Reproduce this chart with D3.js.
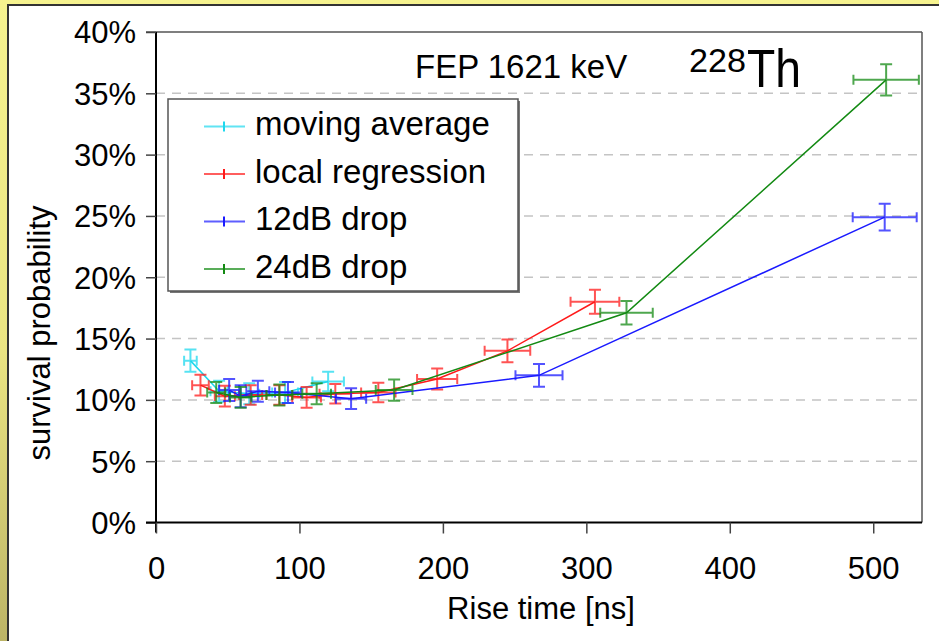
<!DOCTYPE html>
<html><head><meta charset="utf-8">
<script src="https://cdn.jsdelivr.net/npm/d3@7/dist/d3.min.js"></script>
<style>html,body{margin:0;padding:0;background:#fff}svg{display:block}</style>
</head><body>
<script>
// ---------- data ----------
const seriesNames = ["moving average", "local regression", "12dB drop", "24dB drop"];
const seriesColors = ["#1ed8ee", "#ff1a1a", "#1a1aff", "#138a13"];

const maX    = [24, 44, 65, 90, 120];
const maY    = [13.2, 10.7, 10.5, 10.6, 11.5];
const maXErr = [4.4, 6, 7, 9, 11];
const maYErr = [0.9, 0.85, 0.85, 0.85, 0.8];

const lrX    = [31, 48, 66, 86, 105, 125, 155, 196, 245, 306];
const lrY    = [11.2, 10.3, 10.4, 10.4, 10.2, 10.5, 10.6, 11.7, 14.0, 18.0];
const lrXErr = [5.8, 7, 8, 9, 10, 11, 12, 14, 15.9, 17];
const lrYErr = [0.85, 0.85, 0.8, 0.8, 0.85, 0.8, 0.8, 0.85, 0.93, 0.98];

const d12X    = [51, 59, 71, 92, 136, 267, 508];
const d12Y    = [10.8, 10.3, 10.7, 10.6, 10.1, 12.0, 24.9];
const d12XErr = [7, 7.5, 8, 9, 10.5, 16.4, 22.3];
const d12YErr = [0.9, 0.9, 0.85, 0.85, 0.85, 0.93, 1.09];

const d24X    = [42, 59, 86, 112, 166, 328, 509];
const d24Y    = [10.6, 10.2, 10.4, 10.5, 10.8, 17.1, 36.1];
const d24XErr = [6.3, 7.5, 9, 10, 12.8, 18.3, 22.8];
const d24YErr = [0.85, 0.85, 0.85, 0.85, 0.87, 0.96, 1.27];

const xTicks = [0, 100, 200, 300, 400, 500];
const yTicks = [0, 5, 10, 15, 20, 25, 30, 35, 40];
const yTickLabels = yTicks.map(v => v + "%");

const xLabel = "Rise time [ns]";
const yLabel = "survival probability";
const titleText = "FEP 1621 keV";
const isoMass = "228";
const isoElem = "Th";

// ---------- build ----------
const W = 939, H = 641;
const svg = d3.select("body").append("svg").attr("width", W).attr("height", H);
const font = "'Liberation Sans', Arial, sans-serif";

const defs = svg.append("defs");
const grad = defs.append("linearGradient").attr("id", "bg").attr("x1", 0).attr("y1", 0).attr("x2", 0).attr("y2", 1);
grad.append("stop").attr("offset", "0%").attr("stop-color", "#f6f38f");
grad.append("stop").attr("offset", "55%").attr("stop-color", "#eae482");
grad.append("stop").attr("offset", "100%").attr("stop-color", "#bcb466");

svg.append("rect").attr("width", W).attr("height", H).attr("fill", "url(#bg)");
svg.append("rect").attr("x", 8).attr("y", 5).attr("width", W).attr("height", H)
  .attr("fill", "#fff").attr("stroke", "#333").attr("stroke-width", 2);

const x = d3.scaleLinear().domain([0, 534]).range([156, 922]);
const y = d3.scaleLinear().domain([0, 40]).range([522.5, 32]);

// gridlines
svg.append("g").selectAll("line").data(yTicks.filter(v => v > 0 && v < 40)).join("line")
  .attr("x1", x(0)).attr("x2", x(534)).attr("y1", d => y(d)).attr("y2", d => y(d))
  .attr("stroke", "#c4c4c4").attr("stroke-width", 1.5).attr("stroke-dasharray", "9,7");

// frame: top & right
svg.append("line").attr("x1", 146).attr("x2", x(534)).attr("y1", y(40)).attr("y2", y(40))
  .attr("stroke", "#555").attr("stroke-width", 1.5);
svg.append("line").attr("x1", x(534)).attr("x2", x(534)).attr("y1", y(40)).attr("y2", y(0))
  .attr("stroke", "#555").attr("stroke-width", 1.5);

// y axis
const yAxis = d3.axisLeft(y).tickValues(yTicks).tickFormat((d, i) => yTickLabels[i]).tickSize(10).tickPadding(10);
const gy = svg.append("g").attr("transform", `translate(${x(0)},0)`).call(yAxis);
gy.select(".domain").attr("stroke", "#000").attr("stroke-width", 2).attr("d", `M0,${y(40)}V${y(0) + 10}`);
gy.selectAll(".tick line").attr("stroke", "#444").attr("stroke-width", 1.5);
gy.selectAll(".tick text").attr("font-family", font).attr("font-size", 31).attr("fill", "#000")
  .attr("dy", "0.35em");

// x axis
const xAxis = d3.axisBottom(x).tickValues(xTicks).tickSize(11).tickPadding(23);
const gx = svg.append("g").attr("transform", `translate(0,${y(0)})`).call(xAxis);
gx.select(".domain").attr("stroke", "#000").attr("stroke-width", 2).attr("d", `M${x(0) - 10},0H${x(534)}`);
gx.selectAll(".tick line").attr("stroke", "#444").attr("stroke-width", 1.5);
gx.selectAll(".tick text").attr("font-family", font).attr("font-size", 31).attr("fill", "#000");

// axis titles
svg.append("text").attr("x", 541).attr("y", 619).attr("text-anchor", "middle")
  .attr("font-family", font).attr("font-size", 31).text(xLabel);
svg.append("text").attr("transform", "translate(50,333) rotate(-90)").attr("text-anchor", "middle")
  .attr("font-family", font).attr("font-size", 31).text(yLabel);

// title
svg.append("text").attr("x", 415).attr("y", 78).attr("font-family", font).attr("font-size", 33).text(titleText);
svg.append("text").attr("x", 689).attr("y", 72).attr("font-family", font).attr("font-size", 33)
  .attr("textLength", 57).attr("lengthAdjust", "spacingAndGlyphs").text(isoMass);
svg.append("text").attr("x", 747).attr("y", 87).attr("font-family", font).attr("font-size", 53)
  .attr("textLength", 54).attr("lengthAdjust", "spacingAndGlyphs").text(isoElem);

// series
const series = [
  {xs: maX, ys: maY, xe: maXErr, ye: maYErr},
  {xs: lrX, ys: lrY, xe: lrXErr, ye: lrYErr},
  {xs: d12X, ys: d12Y, xe: d12XErr, ye: d12YErr},
  {xs: d24X, ys: d24Y, xe: d24XErr, ye: d24YErr},
];
const line = d3.line().x(d => x(d[0])).y(d => y(d[1]));
series.forEach((s, si) => {
  const pts = s.xs.map((v, i) => [v, s.ys[i], s.xe[i], s.ye[i]]);
  const col = seriesColors[si];
  const g = svg.append("g");
  g.append("path").attr("d", line(pts)).attr("fill", "none").attr("stroke", col).attr("stroke-width", 1.5);
  const eb = g.append("g").attr("stroke", col).attr("stroke-width", 2).attr("stroke-opacity", 0.75).attr("fill", "none");
  pts.forEach(p => {
    const cx = x(p[0]), cy = y(p[1]);
    const x0 = x(p[0] - p[2]), x1 = x(p[0] + p[2]);
    const y0 = y(p[1] - p[3]), y1 = y(p[1] + p[3]);
    eb.append("path").attr("d",
      `M${cx},${y0}V${y1}M${cx - 6},${y0}H${cx + 6}M${cx - 6},${y1}H${cx + 6}` +
      `M${x0},${cy}H${x1}M${x0},${cy - 5}V${cy + 5}M${x1},${cy - 5}V${cy + 5}`);
  });
});

// legend
const lg = svg.append("g");
lg.append("rect").attr("x", 170).attr("y", 101).attr("width", 350).attr("height", 192).attr("fill", "#777");
lg.append("rect").attr("x", 168).attr("y", 99).attr("width", 350).attr("height", 192)
  .attr("fill", "#fff").attr("stroke", "#555").attr("stroke-width", 1.5);
const rowY = d3.scalePoint().domain(seriesNames).range([135, 277.5]);
seriesNames.forEach((n, i) => {
  const by = rowY(n), my = by - 8.5;
  lg.append("line").attr("x1", 204).attr("x2", 245).attr("y1", my).attr("y2", my)
    .attr("stroke", seriesColors[i]).attr("stroke-width", 2).attr("stroke-opacity", 0.7);
  lg.append("line").attr("x1", 224).attr("x2", 224).attr("y1", my - 5).attr("y2", my + 5)
    .attr("stroke", seriesColors[i]).attr("stroke-width", 2);
  lg.append("text").attr("x", 255).attr("y", by).attr("font-family", font).attr("font-size", 33).text(n);
});
</script>
</body></html>
